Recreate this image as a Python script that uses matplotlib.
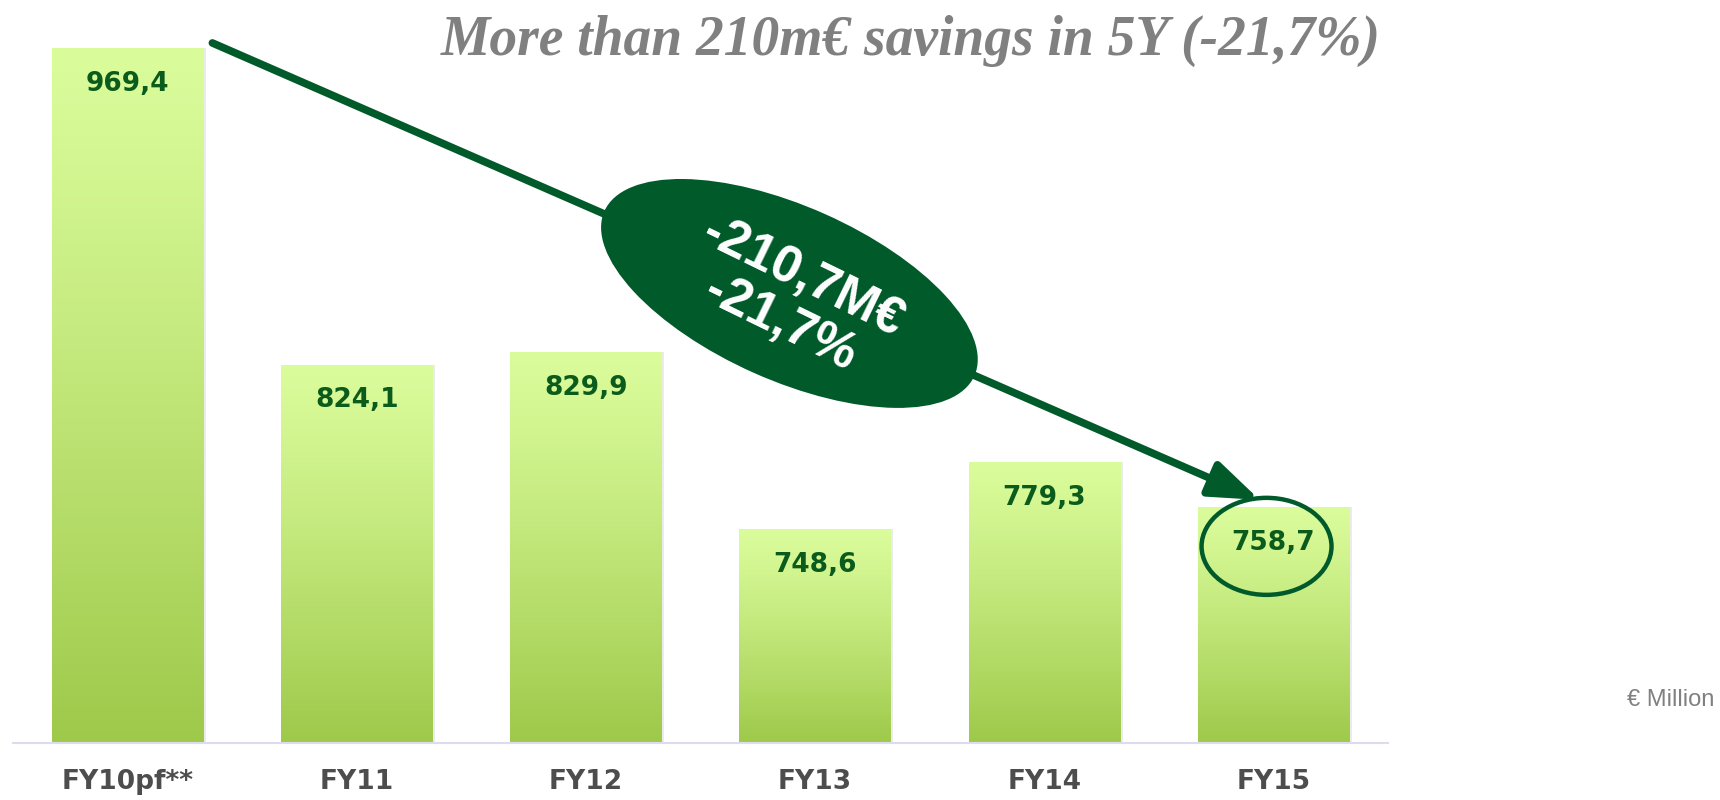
import numpy as np
import matplotlib
matplotlib.use("Agg")
import matplotlib.pyplot as plt
import matplotlib.transforms as mtransforms
from matplotlib.patches import Ellipse
from matplotlib.colors import to_rgb

# data (EUR million)
years = ["FY10pf**", "FY11", "FY12", "FY13", "FY14", "FY15"]
costs = [969.4, 824.1, 829.9, 748.6, 779.3, 758.7]
saving_label = "-210,7M€\n-21,7%"
title = "More than 210m€ savings in 5Y (-21,7%)"
unit = "€ Million"

DARK = "#005a2a"
LABEL = "#0b5c1c"
TOP = np.array(to_rgb("#dafc9b"))
BOT = np.array(to_rgb("#9ec94a"))

fig = plt.figure(figsize=(17.2, 8), dpi=100)
ax = fig.add_axes([13 / 1720, 57 / 800, 1375 / 1720, 743 / 800])
ymin, ymax = 650.5, 991.3

x = np.arange(len(years))
width = 0.66

# soft shadow behind the bars
ax.bar(x + 0.012, np.array(costs) - ymin, bottom=ymin, width=width,
       color="#000000", alpha=0.08, zorder=1, linewidth=0)
bars = ax.bar(x, np.array(costs) - ymin, bottom=ymin, width=width,
              color="none", linewidth=0, zorder=2)

t = np.linspace(0, 1, 256) ** 1.2
grad = (TOP[None, :] * (1 - t[:, None]) + BOT[None, :] * t[:, None])[:, None, :]
for b in bars:
    x0, y0 = b.get_x(), b.get_y()
    im = ax.imshow(grad, extent=(x0, x0 + b.get_width(), y0, y0 + b.get_height()),
                   aspect="auto", origin="upper", zorder=2, interpolation="bilinear")
    im.set_clip_path(b)

for xi, v in zip(x, costs):
    ax.text(xi, v - 16.5, f"{v:.1f}".replace(".", ","), ha="center", va="center",
            fontsize=19, fontweight="bold", color=LABEL, zorder=5)

ax.set_xlim(-0.5, 5.5)
ax.set_ylim(ymin, ymax)
ax.set_xticks(x)
ax.set_xticklabels(years, fontsize=19, fontweight="bold", color="#4d4d4d")
ax.tick_params(axis="x", length=0, pad=19)
ax.set_yticks([])
for s in ["top", "left", "right"]:
    ax.spines[s].set_visible(False)
ax.spines["bottom"].set_color("#dcdcee")
ax.spines["bottom"].set_linewidth(1.5)

# trend arrow from first to last bar
ax.annotate("", xy=(x[-1] - 0.06, costs[-1] + 3.3), xytext=(x[0] + 0.37, costs[0] + 2.2),
            arrowprops=dict(arrowstyle="-|>,head_length=3.0,head_width=1.1",
                            mutation_scale=10, color=DARK, lw=5.5,
                            shrinkA=0, shrinkB=0), zorder=6)

# big rotated bubble with the saving
cx, cy = 2.888, 856.7
trans = fig.dpi_scale_trans + mtransforms.ScaledTranslation(cx, cy, ax.transData)
ax.add_patch(Ellipse((0, 0), 4.05, 1.74, angle=-24, transform=trans,
                     facecolor=DARK, edgecolor="none", zorder=7))
ax.text(cx + 0.01, cy - 3, saving_label, ha="center", va="center", rotation=-26,
        rotation_mode="anchor", multialignment="center", fontsize=37,
        fontweight="bold", color="white", family="Liberation Sans",
        linespacing=1.05, zorder=8)

# ring around the last value
ax.add_patch(Ellipse((x[-1] - 0.03, costs[-1] - 18), 0.567, 44.5, fill=False,
                     edgecolor=DARK, lw=3.2, zorder=6))

fig.text(911 / 1720, 1 - 55 / 800, title, ha="center", va="baseline",
         fontsize=40, fontweight="bold", style="italic", family="Liberation Serif",
         color="#808080")
fig.text(1671 / 1720, 1 - 700 / 800, unit, ha="center", va="center",
         fontsize=17, color="#808080", family="Liberation Sans")

fig.savefig("out.png", dpi=100, facecolor="white")
